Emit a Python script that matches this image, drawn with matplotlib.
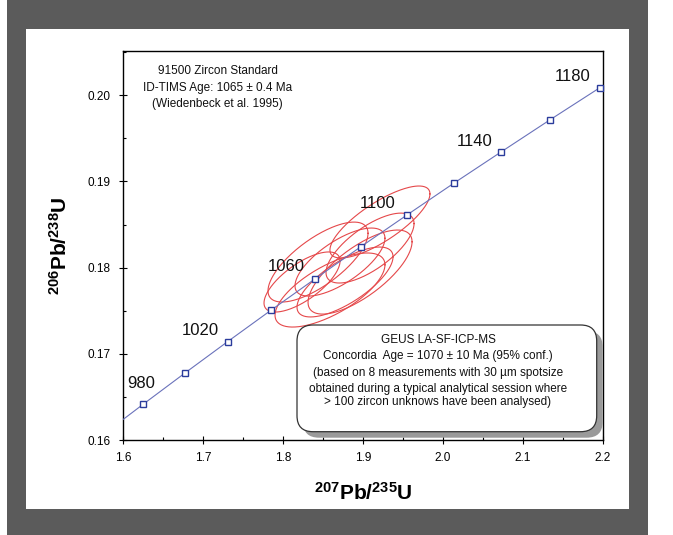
import numpy as np
import matplotlib
matplotlib.use("Agg")
import matplotlib.pyplot as plt
from matplotlib.patches import Rectangle, FancyBboxPatch
from matplotlib.ticker import MultipleLocator, FormatStrFormatter

# ---------------- data ----------------
ages = [980, 1000, 1020, 1040, 1060, 1080, 1100, 1120, 1140, 1160, 1180]
pb207_u235 = [1.6252, 1.6774, 1.7307, 1.7850, 1.8404, 1.8969, 1.9545, 2.0133, 2.0732, 2.1344, 2.1968]
pb206_u238 = [0.16420, 0.16781, 0.17144, 0.17508, 0.17873, 0.18240, 0.18607, 0.18976, 0.19343, 0.19715, 0.20087]
curve_start = (1.600, 0.16243)
curve_end = (2.200, 0.20103)
labelled_ages = [980, 1020, 1060, 1100, 1140, 1180]

# error ellipses: centre, half extents in x / y, correlation
ell_x = [1.9212, 1.9088, 1.8437, 1.8587, 1.8963, 1.8712, 1.8237, 1.8775]
ell_y = [0.18529, 0.18227, 0.18065, 0.17741, 0.17949, 0.18065, 0.17834, 0.17834]
ell_ex = [0.0626, 0.0551, 0.0626, 0.0688, 0.0651, 0.0563, 0.0476, 0.0601]
ell_ey = [0.00417, 0.00405, 0.00463, 0.00429, 0.00487, 0.00394, 0.00348, 0.00405]
ell_rho = [0.78, 0.70, 0.72, 0.68, 0.72, 0.70, 0.70, 0.72]

xticks = [1.6, 1.7, 1.8, 1.9, 2.0, 2.1, 2.2]
yticks = [0.16, 0.17, 0.18, 0.19, 0.20]

info_lines = ["91500 Zircon Standard",
              "ID-TIMS Age: 1065 \u00b1 0.4 Ma",
              "(Wiedenbeck et al. 1995)"]
box_lines = ["GEUS LA-SF-ICP-MS",
             "Concordia  Age = 1070 \u00b1 10 Ma (95% conf.)",
             "(based on 8 measurements with 30 \u00b5m spotsize",
             "obtained during a typical analytical session where",
             "> 100 zircon unknows have been analysed)"]

# ---------------- style / layout ----------------
plt.rcParams['font.family'] = ['Liberation Sans', 'DejaVu Sans']
plt.rcParams['mathtext.fontset'] = 'custom'
plt.rcParams['mathtext.rm'] = 'Liberation Sans'
plt.rcParams['mathtext.bf'] = 'Liberation Sans:bold'

W, H, DPI = 673, 535, 100
fig = plt.figure(figsize=(W / DPI, H / DPI), dpi=DPI, facecolor='white')

def fx(px):
    return px / W

def fy(py):
    return 1 - py / H

# gray frame and white panel
fig.patches.append(Rectangle((fx(7), 0), fx(648) - fx(7), 1, transform=fig.transFigure,
                             facecolor='#5b5b5b', edgecolor='none', zorder=-10))
fig.patches.append(Rectangle((fx(26), fy(509)), fx(629) - fx(26), fy(29) - fy(509),
                             transform=fig.transFigure, facecolor='white',
                             edgecolor='none', zorder=-9))

ax = fig.add_axes([fx(123.3), fy(440.3), fx(602.7) - fx(123.3), fy(51) - fy(440.3)])
ax.set_facecolor('white')
ax.set_xlim(1.6, 2.2)
ax.set_ylim(0.16, 0.2051)

# ellipses
t = np.linspace(0, 2 * np.pi, 240)
for cx, cy, ex, ey, r in zip(ell_x, ell_y, ell_ex, ell_ey, ell_rho):
    xs = cx + ex * np.cos(t)
    ys = cy + ey * (r * np.cos(t) + np.sqrt(1 - r * r) * np.sin(t))
    ax.plot(xs, ys, color='#e5484a', lw=0.8, zorder=2)

# concordia
cx_all = [curve_start[0]] + pb207_u235 + [curve_end[0]]
cy_all = [curve_start[1]] + pb206_u238 + [curve_end[1]]
ax.plot(cx_all, cy_all, color='#6a72bb', lw=0.8, zorder=3)
ax.plot(pb207_u235, pb206_u238, ls='none', marker='s', ms=4.2, mfc='white',
        mec='#2b3c9c', mew=1.0, zorder=4, clip_on=False)

# age labels (offsets in points)
label_offsets = {980: (-1.7, 14.8), 1020: (-19.7, 8.1), 1060: (-20.8, 8.6),
                 1100: (-20.6, 8.6), 1140: (-19.2, 7.7), 1180: (-19.7, 8.1)}
for a in labelled_ages:
    i = ages.index(a)
    ax.annotate(str(a), xy=(pb207_u235[i], pb206_u238[i]), xytext=label_offsets[a],
                textcoords='offset points', ha='center', va='center',
                fontsize=12, color='#111111', zorder=5)

# ticks
ax.set_xticks(xticks)
ax.set_yticks(yticks)
ax.xaxis.set_major_formatter(FormatStrFormatter('%.1f'))
ax.yaxis.set_major_formatter(FormatStrFormatter('%.2f'))
ax.xaxis.set_minor_locator(MultipleLocator(0.05))
ax.yaxis.set_minor_locator(MultipleLocator(0.005))
ax.tick_params(which='major', direction='inout', length=5.5, width=0.8,
               labelsize=8.5, colors='black')
ax.tick_params(axis='x', which='major', pad=6.0)
ax.tick_params(axis='y', which='major', pad=6.5)
ax.tick_params(which='minor', direction='in', length=2.3, width=0.8)
for s in ax.spines.values():
    s.set_linewidth(1.0)
    s.set_color('black')

# axis labels
fig.text(fx(363), fy(499.3), r'$\mathbf{{}^{207}Pb/{}^{235}U}$', fontsize=15,
         ha='center', va='baseline')
fig.text(fx(66.7), fy(245.5), r'$\mathbf{{}^{206}Pb/{}^{238}U}$', fontsize=15,
         ha='center', va='baseline', rotation=90, rotation_mode='anchor')

# info text top-left
for line, base in zip(info_lines, [73.5, 90.5, 107.5]):
    fig.text(fx(217.5), fy(base), line, fontsize=8.5, ha='center', va='baseline',
             color='#111111')

# results box with shadow (in inches for round corners)
bx0, bx1, by_top, by_bot = 297, 596.7, 325, 431.7
def inch(px, py):
    return px / DPI, (H - py) / DPI
x0, y0 = inch(bx0, by_bot)
w_in = (bx1 - bx0) / DPI
h_in = (by_bot - by_top) / DPI
shadow = FancyBboxPatch((x0 + 0.06, y0 - 0.06), w_in, h_in,
                        boxstyle='round,pad=0,rounding_size=0.16',
                        transform=fig.dpi_scale_trans, facecolor='#9a9a9a',
                        edgecolor='none', zorder=5)
box = FancyBboxPatch((x0, y0), w_in, h_in,
                     boxstyle='round,pad=0,rounding_size=0.16',
                     transform=fig.dpi_scale_trans, facecolor='white',
                     edgecolor='#333333', lw=0.9, zorder=6)
fig.patches.extend([shadow, box])
for line, base in zip(box_lines, [343, 359.5, 376, 392, 405.5]):
    fig.text(fx(438), fy(base), line, fontsize=8.5, ha='center', va='baseline',
             color='#111111', zorder=7)

fig.savefig('out.png', dpi=DPI, facecolor='white')
